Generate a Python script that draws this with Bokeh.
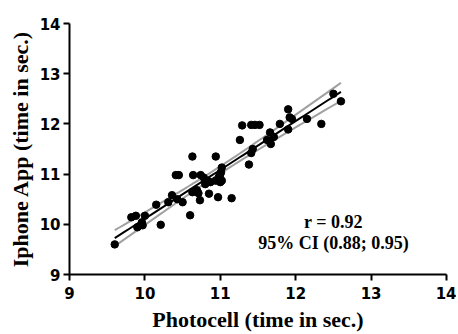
import numpy as np
from bokeh.plotting import figure
from bokeh.models import Label, FixedTicker
from bokeh.embed import file_html
from bokeh.resources import INLINE

photocell = [9.60, 9.82, 9.88, 9.90, 9.97, 10.00, 9.96, 10.15, 10.21, 10.31,
             10.36, 10.43, 10.41, 10.45, 10.50, 10.60, 10.63, 10.64, 10.63, 10.69,
             10.71, 10.73, 10.74, 10.78, 10.83, 10.87, 10.85, 10.94, 10.94, 10.97,
             10.98, 11.00, 11.02, 11.01, 11.02, 11.00, 11.15, 11.26, 11.29, 11.38,
             11.41, 11.43, 11.41, 11.46, 11.52, 11.62, 11.66, 11.71, 11.67, 11.79,
             11.90, 11.95, 11.92, 11.90, 12.15, 12.34, 12.50, 12.60, 11.00, 10.80]
iphone = [9.60, 10.14, 10.17, 9.94, 9.98, 10.17, 10.04, 10.39, 9.99, 10.44,
          10.58, 10.50, 10.98, 10.98, 10.44, 10.18, 11.35, 10.98, 10.64, 10.68,
          10.62, 10.48, 10.98, 10.93, 10.87, 10.84, 10.61, 10.87, 11.35, 10.54,
          10.94, 11.00, 11.13, 11.04, 10.87, 10.84, 10.52, 11.68, 11.97, 11.19,
          11.42, 11.50, 11.98, 11.98, 11.98, 11.68, 11.83, 11.74, 11.60, 12.00,
          12.29, 12.10, 12.13, 11.89, 12.10, 12.00, 12.60, 12.45, 10.90, 10.80]
ticks = [9, 10, 11, 12, 13, 14]
r_text = "r = 0.92"
ci_text = "95% CI (0.88; 0.95)"

x = np.array(photocell)
y = np.array(iphone)
n = len(x)
b, a = np.polyfit(x, y, 1)
xs = np.linspace(x.min(), x.max(), 50)
yhat = a + b * xs
resid = y - (a + b * x)
s = np.sqrt(np.sum(resid**2) / (n - 2))
sxx = np.sum((x - x.mean())**2)
se = s * np.sqrt(1.0 / n + (xs - x.mean())**2 / sxx)
tcrit = 2.0
upper = yhat + tcrit * se
lower = yhat - tcrit * se

p = figure(frame_width=377, frame_height=251, x_range=(9, 14), y_range=(9, 14),
           output_backend="svg", toolbar_location=None,
           min_border_left=69, min_border_right=10, min_border_top=23, min_border_bottom=50)
p.outline_line_color = None
p.xgrid.visible = False
p.ygrid.visible = False
p.background_fill_color = "white"
p.border_fill_color = "white"

p.line(xs, upper, line_color="#a0a0a0", line_width=2)
p.line(xs, lower, line_color="#a0a0a0", line_width=2)
p.line(xs, yhat, line_color="black", line_width=2)
p.scatter(x, y, size=7.5, color="black", marker="circle")

for ax in (p.xaxis[0], p.yaxis[0]):
    ax.ticker = FixedTicker(ticks=ticks)
    ax.axis_line_width = 2
    ax.axis_line_color = "black"
    ax.major_tick_line_width = 2
    ax.major_tick_line_color = "black"
    ax.major_tick_out = 6
    ax.major_tick_in = 0
    ax.minor_tick_line_color = None
    ax.major_label_text_font = "DejaVu Sans"
    ax.major_label_text_font_style = "bold"
    ax.major_label_text_font_size = "15px"
    ax.major_label_text_color = "black"
    ax.axis_label_text_font = "Liberation Serif"
    ax.axis_label_text_font_style = "bold"
    ax.axis_label_text_font_size = "22px"
    ax.axis_label_text_color = "black"

p.xaxis.axis_label = "Photocell (time in sec.)"
p.yaxis.axis_label = "Iphone App (time in sec.)"
p.xaxis.major_label_standoff = 6
p.yaxis.major_label_standoff = 3
p.xaxis.axis_label_standoff = 5
p.yaxis.axis_label_standoff = 4

for txt, yy in ((r_text, 10.045), (ci_text, 9.63)):
    p.add_layout(Label(x=12.50, y=yy, text=txt, text_align="center", text_baseline="middle",
                       text_font="Liberation Serif", text_font_style="bold",
                       text_font_size="18px", text_color="black"))

open("out.html", "w").write(file_html(p, INLINE))
